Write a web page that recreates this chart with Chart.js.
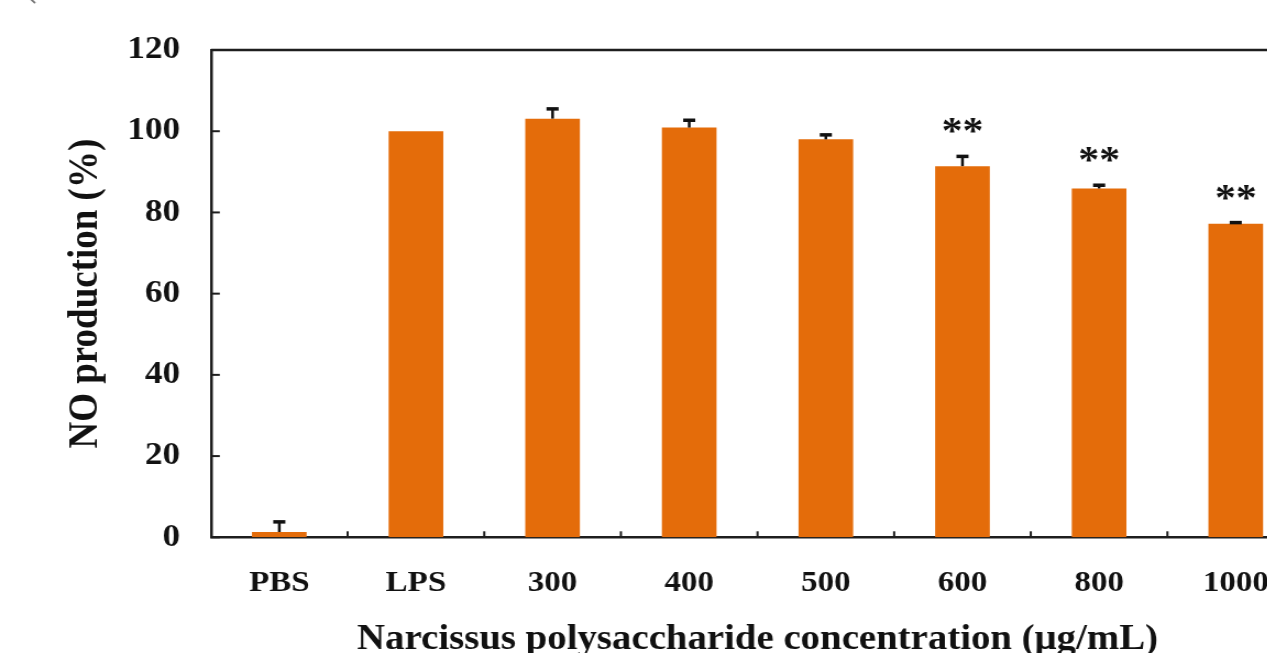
<!DOCTYPE html>
<html>
<head>
<meta charset="utf-8">
<script src="https://cdn.jsdelivr.net/npm/chart.js@4/dist/chart.umd.min.js"></script>
<style>
  html, body { margin: 0; padding: 0; background: #fff; overflow: hidden; width: 1267px; height: 653px; }
  #wrap { position: absolute; left: 0; top: 0; width: 1200px; height: 653px; transform: scaleX(1.1); transform-origin: 0 0; }
  canvas { display: block; }
</style>
</head>
<body>
<div id="wrap"><canvas id="c" width="1200" height="653"></canvas></div>
<script>
// Categories (treatment groups) along the x axis
const categories = ['PBS', 'LPS', '300', '400', '500', '600', '800', '1000'];
// Mean NO production (%) per group
const noProduction = [1.3, 100, 103.1, 100.9, 98.0, 91.4, 85.9, 77.2];
// Upper error (SD) per group
const errorUp = [2.5, 0, 2.4, 1.8, 1.1, 2.4, 0.8, 0.3];
// Significance markers per group
const significance = ['', '', '', '', '', '**', '**', '**'];
// Y axis range and tick step
const yMin = 0, yMax = 120, yStep = 20;

const FONT = "'Liberation Serif', 'Times New Roman', serif";
const AXIS_COLOR = '#1e1e1e';
const BAR_COLOR = '#E46C0A';

// Frame, inward tick marks, error bars and significance stars
const decorations = {
  id: 'decorations',
  afterDatasetsDraw(chart) {
    const { ctx, chartArea: a, scales: { x, y } } = chart;
    ctx.save();
    ctx.strokeStyle = AXIS_COLOR;
    ctx.lineWidth = 2.5;
    ctx.lineCap = 'butt';
    // top frame line
    ctx.beginPath();
    ctx.moveTo(a.left, a.top);
    ctx.lineTo(a.right, a.top);
    ctx.stroke();

    // y ticks pointing inward
    ctx.lineWidth = 2;
    y.ticks.forEach(t => {
      const py = y.getPixelForValue(t.value);
      ctx.beginPath();
      ctx.moveTo(a.left, py);
      ctx.lineTo(a.left + 8, py);
      ctx.stroke();
    });
    // x ticks at category boundaries, pointing inward
    const half = (x.getPixelForValue(1) - x.getPixelForValue(0)) / 2;
    for (let i = 0; i < categories.length; i++) {
      const px = x.getPixelForValue(i) + half;
      ctx.beginPath();
      ctx.moveTo(px, a.bottom);
      ctx.lineTo(px, a.bottom - 6);
      ctx.stroke();
    }

    // error bars (upper only)
    const meta = chart.getDatasetMeta(0);
    ctx.strokeStyle = '#111';
    meta.data.forEach((bar, i) => {
      const e = errorUp[i];
      if (!e) return;
      const top = y.getPixelForValue(noProduction[i] + e);
      const base = y.getPixelForValue(noProduction[i]);
      ctx.lineWidth = 2.5;
      ctx.beginPath();
      ctx.moveTo(bar.x, base);
      ctx.lineTo(bar.x, top);
      ctx.stroke();
      ctx.lineWidth = 3.5;
      ctx.beginPath();
      ctx.moveTo(bar.x - 5.5, top);
      ctx.lineTo(bar.x + 5.5, top);
      ctx.stroke();
    });

    // significance stars above the error bars
    ctx.fillStyle = '#111';
    ctx.font = 'bold 38px ' + FONT;
    ctx.textAlign = 'center';
    ctx.textBaseline = 'alphabetic';
    meta.data.forEach((bar, i) => {
      if (!significance[i]) return;
      const top = y.getPixelForValue(noProduction[i] + errorUp[i]);
      ctx.fillText(significance[i], bar.x, top - 13);
    });

    // stray return mark in the top-left corner
    ctx.fillStyle = '#777';
    ctx.font = '22px ' + FONT;
    ctx.textAlign = 'left';
    ctx.fillText('↵', 26, 6);
    ctx.restore();
  }
};

new Chart(document.getElementById('c'), {
  type: 'bar',
  data: {
    labels: categories,
    datasets: [{
      data: noProduction,
      backgroundColor: BAR_COLOR,
      borderWidth: 0,
      barPercentage: 0.40,
      categoryPercentage: 1.0
    }]
  },
  options: {
    responsive: false,
    devicePixelRatio: 1,
    animation: false,
    layout: { padding: { top: 50, right: 14.5, bottom: 0, left: 0 } },
    plugins: { legend: { display: false }, tooltip: { enabled: false } },
    scales: {
      x: {
        grid: { display: false, drawTicks: false },
        border: { display: true, color: AXIS_COLOR, width: 2.5 },
        ticks: { color: '#111', padding: 28, font: { family: FONT, size: 30, weight: 'bold' } },
        title: {
          display: true,
          text: 'Narcissus polysaccharide concentration (μg/mL)',
          color: '#111',
          font: { family: FONT, size: 35.3, weight: 'bold', lineHeight: 1 },
          padding: { top: 0, bottom: -5 }
        },
        afterFit(scale) { scale.height = 115.7; }
      },
      y: {
        min: yMin, max: yMax,
        grid: { display: false, drawTicks: false },
        border: { display: true, color: AXIS_COLOR, width: 2.5 },
        ticks: { stepSize: yStep, color: '#111', padding: 28, font: { family: FONT, size: 32, weight: 'bold' } },
        title: {
          display: true,
          text: 'NO production (%)',
          color: '#111',
          font: { family: FONT, size: 37, weight: 'bold', lineHeight: 1 },
          padding: { top: 60, bottom: 0 }
        },
        afterFit(scale) { scale.width = 191.8; }
      }
    }
  },
  plugins: [decorations]
});
</script>
</body>
</html>
